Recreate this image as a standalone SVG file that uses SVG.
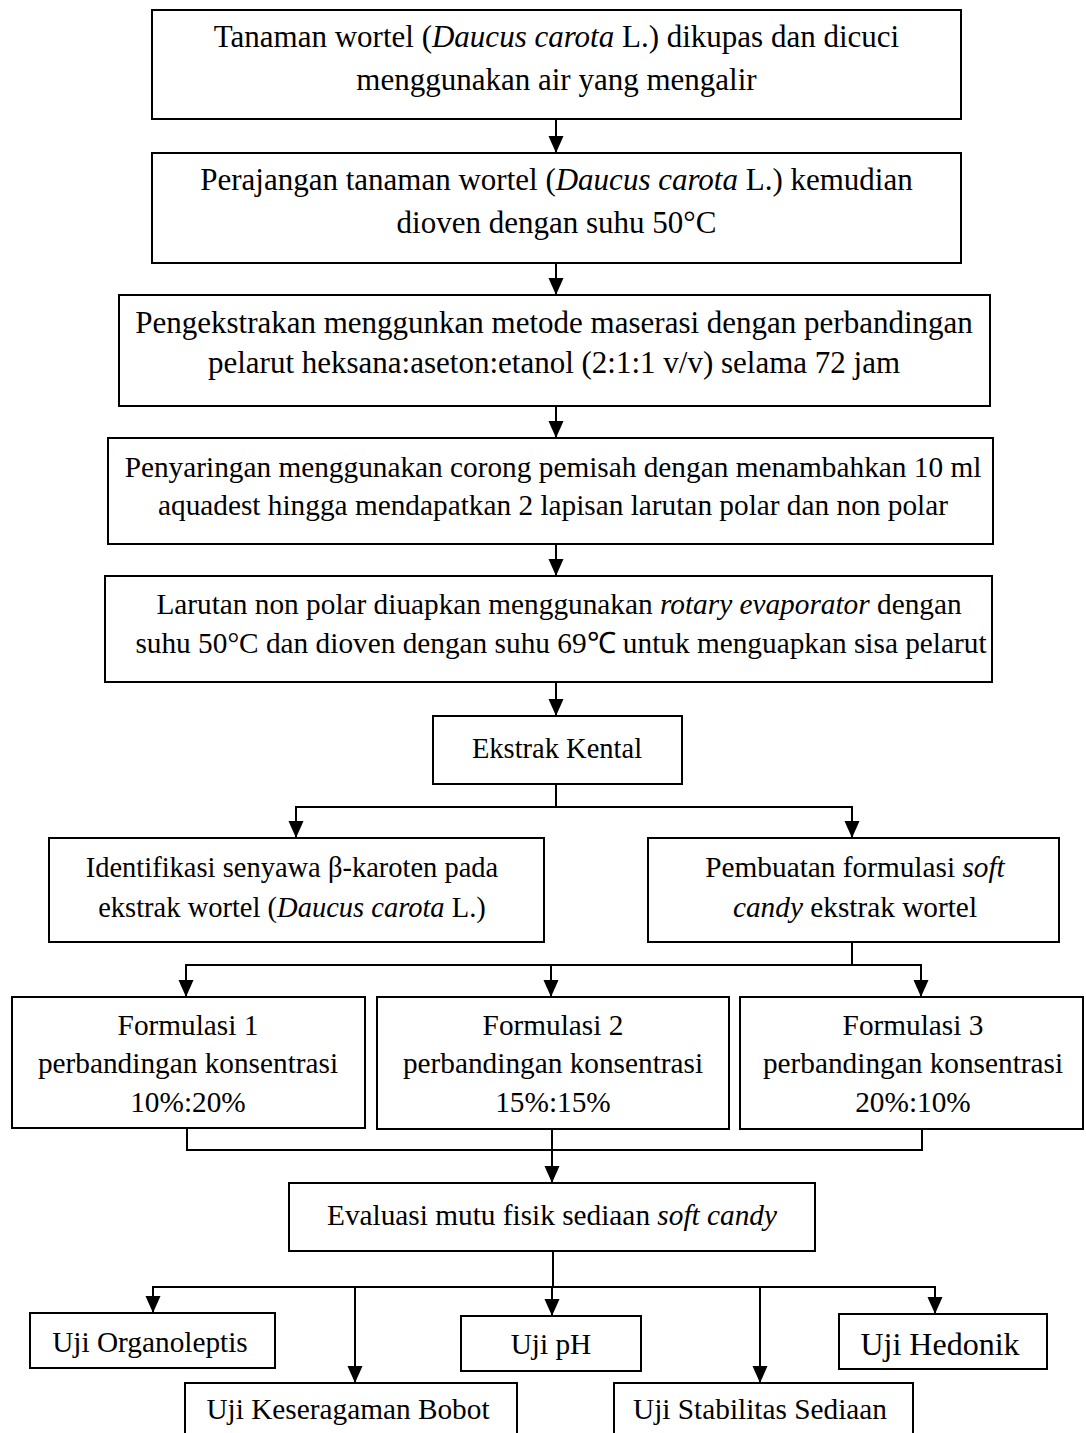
<svg xmlns="http://www.w3.org/2000/svg" width="1086" height="1433" viewBox="0 0 1086 1433">
<defs>
<style>
.box{fill:#fff;stroke:#000;stroke-width:2}
text{font-family:"Liberation Serif","Times New Roman",serif;font-size:29.3px;fill:#000;text-anchor:middle}
.lg{font-size:31px}
.sm{font-size:28.5px}
.big{font-size:32px}
.c{fill:none;stroke:#000;stroke-width:2}
</style>
<marker id="ah" markerUnits="userSpaceOnUse" markerWidth="18" markerHeight="16" refX="17" refY="7.5" orient="auto">
<path d="M0,0 L17,7.5 L0,15 z" fill="#000"/>
</marker>
</defs>
<rect width="1086" height="1433" fill="#fff"/>
<g id="connectors">
<line class="c" x1="556" y1="119" x2="556" y2="153" marker-end="url(#ah)"/>
<line class="c" x1="556" y1="263" x2="556" y2="295" marker-end="url(#ah)"/>
<line class="c" x1="556" y1="406" x2="556" y2="438" marker-end="url(#ah)"/>
<line class="c" x1="556" y1="544" x2="556" y2="576" marker-end="url(#ah)"/>
<line class="c" x1="556" y1="682" x2="556" y2="716" marker-end="url(#ah)"/>
<polyline class="c" points="556,784 556,807"/>
<polyline class="c" points="296,820 296,807 852,807 852,820"/>
<line class="c" x1="296" y1="815" x2="296" y2="838" marker-end="url(#ah)"/>
<line class="c" x1="852" y1="815" x2="852" y2="838" marker-end="url(#ah)"/>
<polyline class="c" points="852,942 852,965"/>
<polyline class="c" points="186,980 186,965 921,965 921,980"/>
<line class="c" x1="186" y1="975" x2="186" y2="997" marker-end="url(#ah)"/>
<line class="c" x1="551" y1="965" x2="551" y2="997" marker-end="url(#ah)"/>
<line class="c" x1="921" y1="975" x2="921" y2="997" marker-end="url(#ah)"/>
<polyline class="c" points="187,1128 187,1150 922,1150 922,1128"/>
<line class="c" x1="552" y1="1128" x2="552" y2="1183" marker-end="url(#ah)"/>
<line class="c" x1="553" y1="1251" x2="553" y2="1287" stroke-width="1.5"/>
<polyline class="c" points="153,1300 153,1287 935,1287 935,1300"/>
<line class="c" x1="153" y1="1295" x2="153" y2="1313" marker-end="url(#ah)"/>
<line class="c" x1="355" y1="1287" x2="355" y2="1383" marker-end="url(#ah)"/>
<line class="c" x1="552" y1="1287" x2="552" y2="1316" marker-end="url(#ah)"/>
<line class="c" x1="760" y1="1287" x2="760" y2="1383" marker-end="url(#ah)"/>
<line class="c" x1="935" y1="1295" x2="935" y2="1314" marker-end="url(#ah)"/>
</g>
<g id="n1"><rect class="box" x="152" y="10" width="809" height="109"/>
<text class="lg" x="556.5" y="47">Tanaman wortel (<tspan font-style="italic">Daucus carota</tspan> L.) dikupas dan dicuci</text>
<text class="lg" x="556.5" y="90">menggunakan air yang mengalir</text></g>
<g id="n2"><rect class="box" x="152" y="153" width="809" height="110"/>
<text class="lg" x="556.5" y="190">Perajangan tanaman wortel (<tspan font-style="italic">Daucus carota</tspan> L.) kemudian</text>
<text class="lg" x="556.5" y="233">dioven dengan suhu 50°C</text></g>
<g id="n3"><rect class="box" x="119" y="295" width="871" height="111"/>
<text class="lg" x="554" y="333">Pengekstrakan menggunkan metode maserasi dengan perbandingan</text>
<text class="lg" x="554" y="373">pelarut heksana:aseton:etanol (2:1:1 v/v) selama 72 jam</text></g>
<g id="n4"><rect class="box" x="108" y="438" width="885" height="106"/>
<text x="553" y="477">Penyaringan menggunakan corong pemisah dengan menambahkan 10 ml</text>
<text x="553" y="515">aquadest hingga mendapatkan 2 lapisan larutan polar dan non polar</text></g>
<g id="n5"><rect class="box" x="105" y="576" width="887" height="106"/>
<text x="559" y="614">Larutan non polar diuapkan menggunakan <tspan font-style="italic">rotary evaporator</tspan> dengan</text>
<text x="561" y="653">suhu 50°C dan dioven dengan suhu 69℃ untuk menguapkan sisa pelarut</text></g>
<g id="n6"><rect class="box" x="433" y="716" width="249" height="68"/>
<text class="sm" x="557" y="758">Ekstrak Kental</text></g>
<g id="n7"><rect class="box" x="49" y="838" width="495" height="104"/>
<text class="sm" x="292" y="877">Identifikasi senyawa β-karoten pada</text>
<text class="sm" x="292" y="917">ekstrak wortel (<tspan font-style="italic">Daucus carota</tspan> L.)</text></g>
<g id="n8"><rect class="box" x="648" y="838" width="411" height="104"/>
<text x="855" y="877">Pembuatan formulasi <tspan font-style="italic">soft</tspan></text>
<text x="855" y="917"><tspan font-style="italic">candy</tspan> ekstrak wortel</text></g>
<g id="n9"><rect class="box" x="12" y="997" width="353" height="131"/>
<text x="188" y="1035">Formulasi 1</text>
<text x="188" y="1073">perbandingan konsentrasi</text>
<text x="188" y="1112">10%:20%</text></g>
<g id="n10"><rect class="box" x="377" y="997" width="352" height="132"/>
<text x="553" y="1035">Formulasi 2</text>
<text x="553" y="1073">perbandingan konsentrasi</text>
<text x="553" y="1112">15%:15%</text></g>
<g id="n11"><rect class="box" x="740" y="997" width="343" height="132"/>
<text x="913" y="1035">Formulasi 3</text>
<text x="913" y="1073">perbandingan konsentrasi</text>
<text x="913" y="1112">20%:10%</text></g>
<g id="n12"><rect class="box" x="289" y="1183" width="526" height="68"/>
<text x="552" y="1225">Evaluasi mutu fisik sediaan <tspan font-style="italic">soft candy</tspan></text></g>
<g id="n13"><rect class="box" x="30" y="1313" width="245" height="55"/>
<text x="150" y="1352">Uji Organoleptis</text></g>
<g id="n14"><rect class="box" x="461" y="1316" width="180" height="55"/>
<text x="551" y="1354">Uji pH</text></g>
<g id="n15"><rect class="box" x="839" y="1314" width="208" height="55"/>
<text class="big" x="940" y="1355">Uji Hedonik</text></g>
<g id="n16"><rect class="box" x="185" y="1383" width="332" height="60"/>
<text x="348" y="1419">Uji Keseragaman Bobot</text></g>
<g id="n17"><rect class="box" x="614" y="1383" width="299" height="60"/>
<text x="760" y="1419">Uji Stabilitas Sediaan</text></g>
</svg>
